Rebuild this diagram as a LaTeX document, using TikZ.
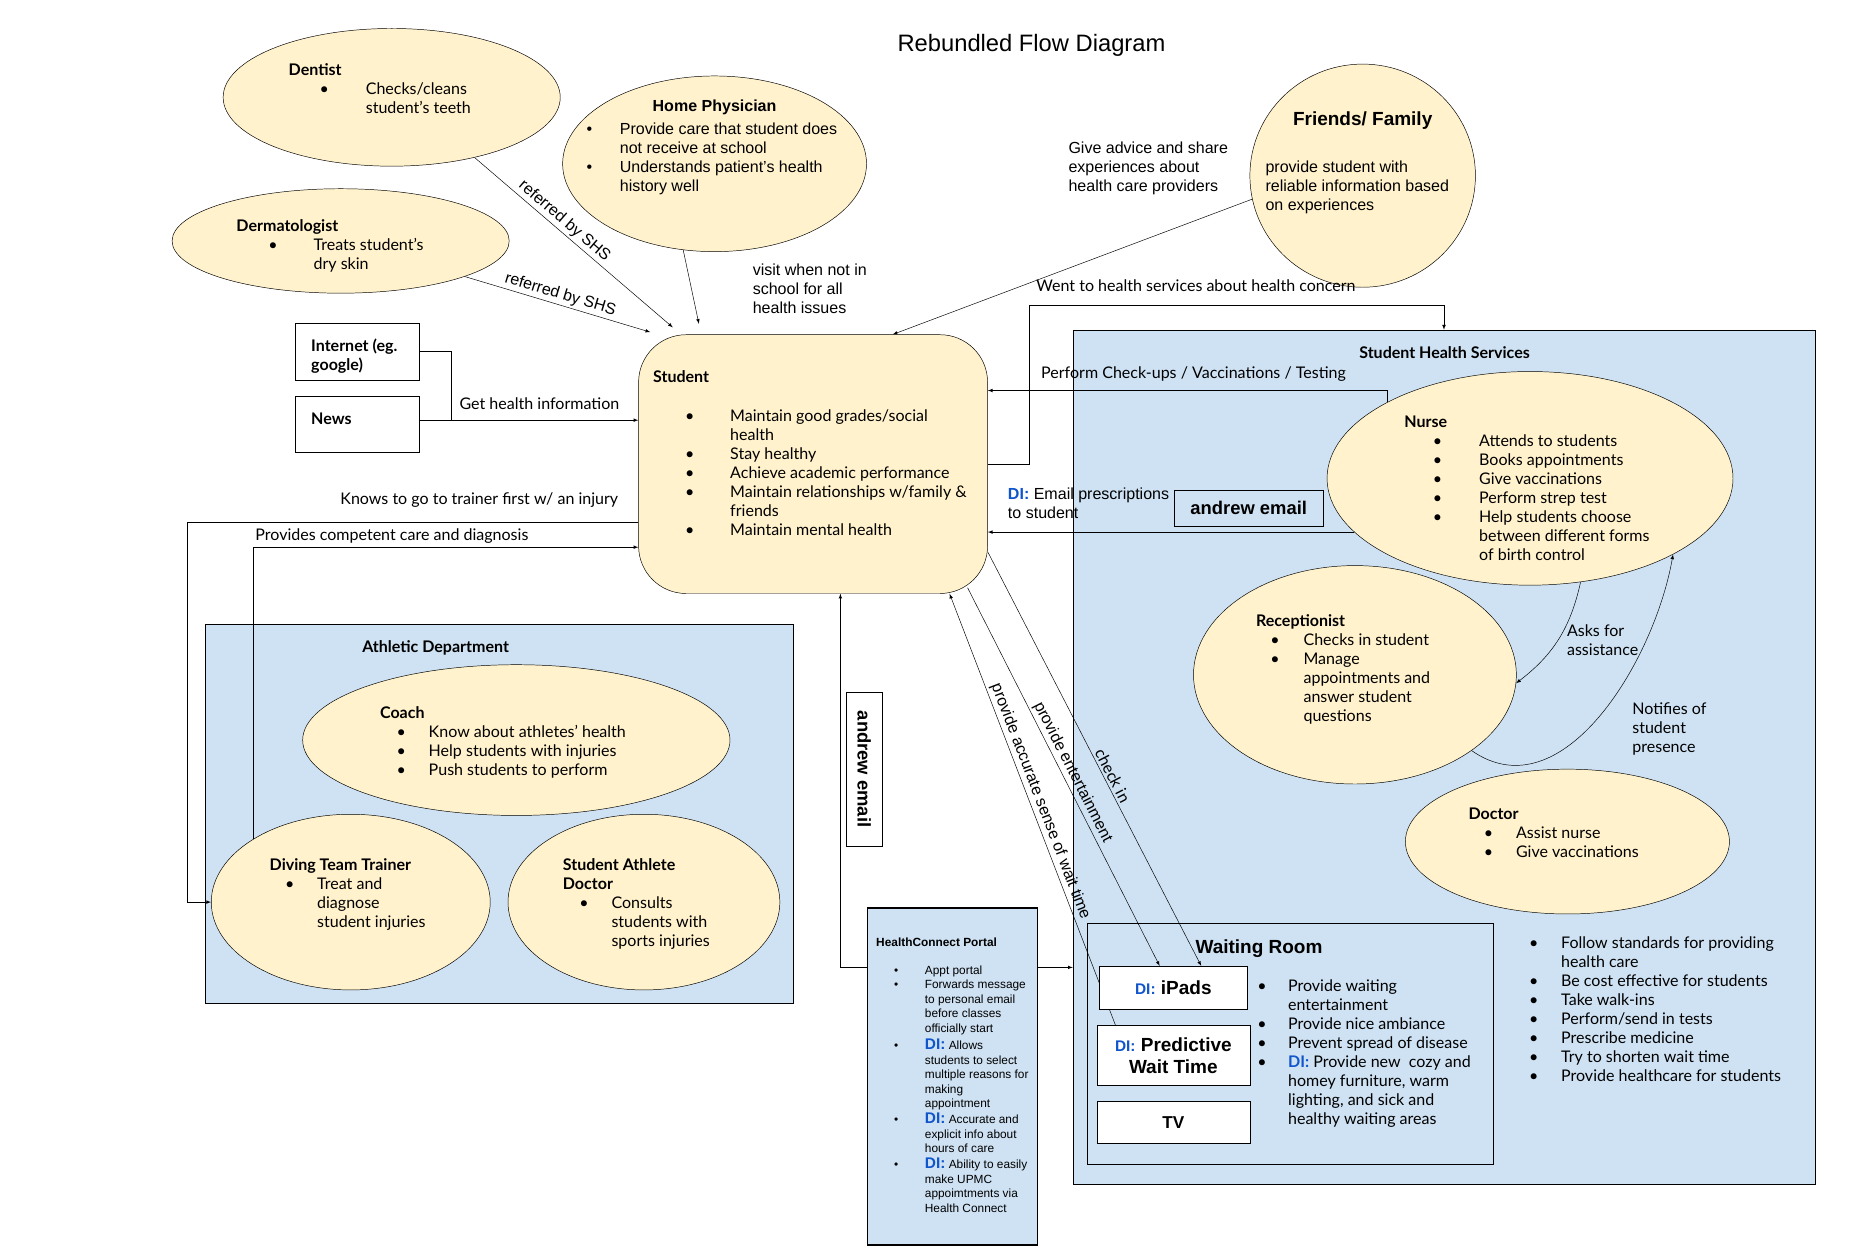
\documentclass[tikz,border=0pt]{standalone}
\usepackage{fontspec}
\setmainfont{Lato}
\newfontfamily\arialf{Liberation Sans}
\usetikzlibrary{shapes.geometric,positioning}
\pgfdeclarelayer{bg}
\pgfdeclarelayer{wires}
\pgfsetlayers{bg,wires,main}

\definecolor{shsblue}{HTML}{CFE2F3}
\definecolor{noteyellow}{HTML}{FFF2CC}
\definecolor{diblue}{HTML}{1155CC}

\newcommand{\basefs}{\fontsize{13.5}{16}\selectfont}
\newcommand{\bul}{\textbullet}
\newcommand{\dilbl}{\textcolor{diblue}{\textbf{DI:}}}
\newcommand{\dibig}{{\fontsize{13}{12}\selectfont\dilbl}}
\newcommand{\blines}[1]{\begin{tabular}[t]{@{}l@{}}#1\end{tabular}}
\newcommand{\bitems}[2]{\begin{tabular}[t]{@{}p{#1}@{}l@{}}#2\end{tabular}}

\begin{document}
\begin{tikzpicture}[
        x=1pt, y=-1pt, % one unit per pixel of the sketch, y runs down
        line width=0.6pt,
        txt/.style={inner sep=0pt, anchor=base west, font=\basefs},
        atxt/.style={txt, font=\arialf\basefs},
        headtxt/.style={txt, font=\bfseries\basefs},
        aheadtxt/.style={txt, font=\arialf\bfseries\basefs},
        bubble/.style={ellipse, draw, fill=noteyellow, inner sep=0pt},
        zone/.style={rectangle, draw, fill=shsblue, inner sep=0pt},
        plainbox/.style={rectangle, draw, inner sep=0pt},
        link/.style={draw, -latex},
        lbl/.style={inner sep=2pt, font=\basefs},
        elbl/.style={inner sep=2pt, font=\arialf\basefs},
    ]
    \useasboundingbox (0,0) rectangle (1567,1059);

    % shaded areas
    \begin{pgfonlayer}{bg}
        \fill[white] (0,0) rectangle (1567,1059);
        \node[zone, minimum width=625pt, minimum height=720pt] (shs) at (1216.5,638) {};
        \node[zone, minimum width=495pt, minimum height=319pt] (athletic) at (420.5,685.5) {};
        \node[zone, minimum width=342pt, minimum height=203pt] (waiting) at (1087,879.5) {};
        \node[zone, line width=1.2pt, minimum width=143pt, minimum height=284pt] (portal) at (802.5,907) {};
    \end{pgfonlayer}

    \node[inner sep=0pt, anchor=base, font=\arialf\fontsize{20}{24}\selectfont] (title) at (869,43) {Rebundled Flow Diagram};

    % actors
    \node[bubble, minimum width=284pt, minimum height=116pt] (dentist) at (330,82) {};
    \node[bubble, minimum width=256pt, minimum height=148pt] (homephys) at (602,138) {};
    \node[bubble, minimum width=284pt, minimum height=88pt] (derm) at (287,203) {};
    \node[bubble, minimum width=190pt, minimum height=188pt] (friends) at (1148,148) {};
    \node[bubble, minimum width=342pt, minimum height=180pt] (nurse) at (1289,403) {};
    \node[bubble, minimum width=272pt, minimum height=184pt] (recep) at (1141.5,568.5) {};
    \node[bubble, minimum width=273pt, minimum height=122pt] (doctor) at (1320.5,709) {};
    \node[bubble, minimum width=360pt, minimum height=127pt] (coach) at (435,623.5) {};
    \node[bubble, minimum width=235pt, minimum height=148pt] (trainer) at (295.5,760) {};
    \node[bubble, minimum width=229pt, minimum height=148pt] (athdoc) at (542.5,760) {};
    \node[rectangle, draw, fill=noteyellow, rounded corners=40pt,
          minimum width=294pt, minimum height=218pt] (student) at (685,391) {};

    \node[plainbox, minimum width=104pt, minimum height=48pt] (internet) at (301,296) {};
    \node[plainbox, minimum width=104pt, minimum height=47pt] (news) at (301,357.5) {};
    \node[plainbox, minimum width=126pt, minimum height=30pt,
          font=\arialf\bfseries\fontsize{15.5}{18}\selectfont] (mailbox) at (1052,428) {andrew email};
    \node[plainbox, rotate=-90, minimum width=130pt, minimum height=30pt,
          font=\arialf\bfseries\fontsize{15.5}{18}\selectfont] (mailtag) at (728,648) {andrew email};

    \node[plainbox, fill=white, minimum width=125pt, minimum height=36pt,
          font=\arialf\bfseries\fontsize{16}{19}\selectfont] (ipads) at (988.5,832)
          {{\fontsize{13}{16}\selectfont\textcolor{diblue}{DI:}} iPads};
    \node[plainbox, fill=white, minimum width=129pt, minimum height=50pt, align=center,
          font=\arialf\bfseries\fontsize{16}{18.5}\selectfont] (pred) at (988.5,889)
          {{\fontsize{13}{16}\selectfont\textcolor{diblue}{DI:}} Predictive\\Wait Time};
    \node[plainbox, fill=white, minimum width=129pt, minimum height=35pt,
          font=\arialf\bfseries\fontsize{14.5}{17}\selectfont] (tv) at (988.5,945.5) {TV};

    \coordinate (jn) at (380,354);

    % connectors
    \begin{pgfonlayer}{wires}
        \draw[link] (derm.-16.7) -- node[sloped, above, elbl] {referred by SHS}
            ([xshift=10pt,yshift=2pt]student.north west);
        \draw[link] (dentist.-36) -- node[sloped, above, pos=0.42, elbl] {referred by SHS}
            ([xshift=29pt,yshift=6pt]student.north west);
        \draw[link] (homephys.-110.6) -- ([xshift=51pt,yshift=9pt]student.north west);
        \draw[link] (friends.-168) -- ([xshift=67pt]student.north);
        \draw (internet.east) -| (jn);
        \draw[link] ([yshift=3.5pt]news.east) -- ([yshift=3.5pt]news.east -| student.west);
        \draw[link] (student.east) -- ++(35,0) |- ([yshift=21pt]shs.north) -- (shs.north);
        \draw[link] (nurse.152) |- ([yshift=62pt]student.east);
        \draw[link] (nurse.-163) -- (nurse.-163 -| student.east);
        \draw[link] (nurse.-64) to[bend left=20] (recep.-3);
        \draw[link] (recep.-33) to[out=-35, in=-100] (nurse.-28);
        \draw[link] ([yshift=-49pt]student.west) -- ++(-380,0) |- (trainer.west);
        \draw[link] (trainer.147) |- ([yshift=-70pt]student.west);
        \draw[link] ([yshift=92pt]portal.west) -| ([xshift=23pt]student.south);
        \draw[link] ([yshift=92pt]portal.east) -- ([yshift=92pt]portal.east -| shs.west);
        \draw[latex-] ([xshift=115pt]student.south) -- node[sloped, above, pos=0.49, elbl]
            {provide accurate sense of wait time} ([xshift=16pt]pred.north west);
        \draw[link] ([xshift=-17pt,yshift=5pt]student.south east) -- node[sloped, above, pos=0.5, elbl]
            {provide entertainment} ([xshift=-11.5pt]ipads.north);
        \draw[link] ([yshift=-74pt]student.east) -- node[sloped, above, pos=0.55, lbl]
            {check in} ([xshift=23.5pt]ipads.north);
    \end{pgfonlayer}

    % connector texts
    \node[atxt] (advicelbl) at (900,129) {\blines{Give advice and share\\experiences about\\health care providers}};
    \node[atxt] (visitlbl) at (634,232) {\blines{visit when not in\\school for all\\health issues}};
    \node[txt] (getinfolbl) at (387,345) {Get health information};
    \node[txt] (wentlbl) at (873,246) {Went to health services about health concern};
    \node[txt] (checkupslbl) at (877,319) {Perform Check-ups / Vaccinations / Testing};
    \node[atxt] (emaillbl) at (849,421) {\blines{\dilbl{} Email prescriptions\\to student}};
    \node[txt, anchor=base east] (knowslbl) at (521,425) {Knows to go to trainer first w/ an injury};
    \node[txt] (careslbl) at (215,455) {Provides competent care and diagnosis};
    \node[txt] (askslbl) at (1320,536) {\blines{Asks for\\assistance}};
    \node[txt] (notifylbl) at (1375,602) {\blines{Notifies of\\student\\presence}};

    % actor texts
    \node[headtxt] (dentisthd) at (243,64) {Dentist};
    \node[txt] (dentistls) at (269,80) {\bitems{39pt}{\bul & Checks/cleans\\ & student’s teeth}};
    \node[aheadtxt, anchor=base] (homephyshd) at (602,94) {Home Physician};
    \node[atxt] (homephysls) at (494,113) {\bitems{28pt}{\bul & Provide care that student does\\
        & not receive at school\\ \bul & Understands patient’s health\\ & history well}};
    \node[headtxt] (dermhd) at (199,195) {Dermatologist};
    \node[txt] (dermls) at (226,211) {\bitems{38pt}{\bul & Treats student’s\\ & dry skin}};
    \node[inner sep=0pt, anchor=base, font=\arialf\bfseries\fontsize{16}{19}\selectfont] (friendshd) at (1148,106) {Friends/ Family};
    \node[atxt] (friendsls) at (1066,145) {\blines{provide student with\\reliable information based\\on experiences}};

    \node[headtxt] (internethd) at (262,296) {\blines{Internet (eg.\\google)}};
    \node[headtxt] (newshd) at (262,358) {News};

    \node[headtxt] (studenthd) at (550,322) {Student};
    \node[txt] (studentls) at (577,355) {\bitems{38pt}{\bul & Maintain good grades/social\\ & health\\
        \bul & Stay healthy\\ \bul & Achieve academic performance\\
        \bul & Maintain relationships w/family \&\\ & friends\\ \bul & Maintain mental health}};

    \node[headtxt, anchor=base] (shshd) at (1217,302) {Student Health Services};
    \node[headtxt] (nursehd) at (1183,360) {Nurse};
    \node[txt] (nursels) at (1207,376) {\bitems{39pt}{\bul & Attends to students\\ \bul & Books appointments\\
        \bul & Give vaccinations\\ \bul & Perform strep test\\ \bul & Help students choose\\
        & between different forms\\ & of birth control}};
    \node[headtxt] (recephd) at (1058,528) {Receptionist};
    \node[txt] (recepls) at (1070,544) {\bitems{28pt}{\bul & Checks in student\\ \bul & Manage\\
        & appointments and\\ & answer student\\ & questions}};
    \node[headtxt] (doctorhd) at (1237,690) {Doctor};
    \node[txt] (doctorls) at (1250,706) {\bitems{27pt}{\bul & Assist nurse\\ \bul & Give vaccinations}};

    \node[txt, font=\arialf\bfseries\fontsize{16}{19}\selectfont] (waitinghd) at (1007,803) {Waiting Room};
    \node[txt] (waitingls) at (1059,835) {\bitems{26pt}{\bul & Provide waiting\\ & entertainment\\
        \bul & Provide nice ambiance\\ \bul & Prevent spread of disease\\
        \bul & \dilbl{} Provide new\ \ cozy and\\ & homey furniture, warm\\
        & lighting, and sick and\\ & healthy waiting areas}};
    \node[txt] (shsls) at (1288,799) {\bitems{27pt}{\bul & Follow standards for providing\\ & health care\\
        \bul & Be cost effective for students\\ \bul & Take walk-ins\\ \bul & Perform/send in tests\\
        \bul & Prescribe medicine\\ \bul & Try to shorten wait time\\ \bul & Provide healthcare for students}};

    \node[txt, font=\arialf\bfseries\fontsize{10}{12}\selectfont] (portalhd) at (738,797) {HealthConnect Portal};
    \node[txt, font=\arialf\fontsize{10}{12.2}\selectfont] (portalls) at (753,821) {\bitems{26pt}{%
        \bul & Appt portal\\ \bul & Forwards message\\ & to personal email\\ & before classes\\
        & officially start\\[2pt]
        \bul & \dibig{} Allows\\ & students to select\\ & multiple reasons for\\ & making\\ & appointment\\[1pt]
        \bul & \dibig{} Accurate and\\ & explicit info about\\ & hours of care\\[1pt]
        \bul & \dibig{} Ability to easily\\ & make UPMC\\ & appoimtments via\\ & Health Connect}};

    \node[headtxt, anchor=base] (athletichd) at (367,550) {Athletic Department};
    \node[headtxt] (coachhd) at (320,605) {Coach};
    \node[txt] (coachls) at (334,621) {\bitems{27pt}{\bul & Know about athletes’ health\\
        \bul & Help students with injuries\\ \bul & Push students to perform}};
    \node[headtxt] (trainerhd) at (227,733) {Diving Team Trainer};
    \node[txt] (trainerls) at (240,749) {\bitems{27pt}{\bul & Treat and\\ & diagnose\\ & student injuries}};
    \node[headtxt] (athdochd) at (474,733) {\blines{Student Athlete\\Doctor}};
    \node[txt] (athdocls) at (488,765) {\bitems{27pt}{\bul & Consults\\ & students with\\ & sports injuries}};
\end{tikzpicture}
\end{document}
